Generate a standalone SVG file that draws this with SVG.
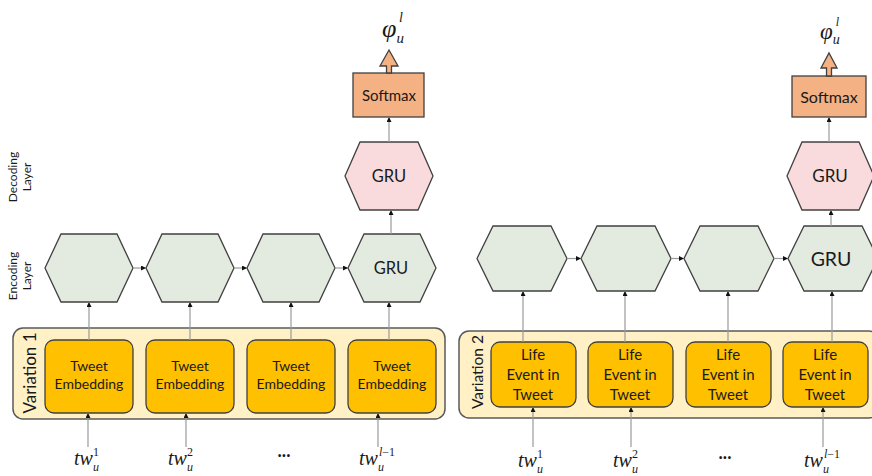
<svg xmlns="http://www.w3.org/2000/svg" width="872" height="476" viewBox="0 0 872 476">
<defs>
<marker id="ah" viewBox="0 0 6 6" refX="6" refY="3" markerWidth="5" markerHeight="5" orient="auto" markerUnits="userSpaceOnUse">
<path d="M0,0 L6,3 L0,6 Z" fill="#111"/>
</marker>
<style>
.enc{fill:#E3EAE0;stroke:#404040;stroke-width:1.3}
.dec{fill:#F9DADD;stroke:#404040;stroke-width:1.3}
.sm{fill:#F4B183;stroke:#404040;stroke-width:1.3}
.box{fill:#FFC000;stroke:#404040;stroke-width:1.3}
.cont{fill:#FFF0C6;stroke:#595959;stroke-width:1.5}
.t{font-family:Lato,"Open Sans",sans-serif;fill:#1a1a1a;text-anchor:middle}
.m{font-family:"Liberation Serif",serif;font-style:italic;fill:#1a1a1a}
.n{font-style:normal}
.c line{stroke:#9a9a9a;stroke-width:1.2;marker-end:url(#ah)}
</style>
</defs>
<rect width="872" height="476" fill="#fff"/>

<!-- side labels -->
<g id="decoding-label">
<text class="t" font-size="12" transform="translate(17,177) rotate(-90)">Decoding</text>
<text class="t" font-size="12" transform="translate(31,177) rotate(-90)">Layer</text>
</g>
<g id="encoding-label">
<text class="t" font-size="12" transform="translate(17,276) rotate(-90)">Encoding</text>
<text class="t" font-size="12" transform="translate(31,276) rotate(-90)">Layer</text>
</g>

<!-- Left panel -->
<g id="variation1">
<rect class="cont" x="13" y="328" width="432" height="91" rx="10"/>
<text class="t" font-size="17" transform="translate(36,373) rotate(-90)">Variation 1</text>
</g>
<g id="tweet1"><rect class="box" x="45" y="340" width="88" height="73" rx="9"/><text class="t" font-size="14"><tspan x="89" y="371">Tweet</tspan><tspan x="89" y="389">Embedding</tspan></text></g>
<g id="tweet2"><rect class="box" x="146" y="340" width="88" height="73" rx="9"/><text class="t" font-size="14"><tspan x="190" y="371">Tweet</tspan><tspan x="190" y="389">Embedding</tspan></text></g>
<g id="tweet3"><rect class="box" x="247" y="340" width="88" height="73" rx="9"/><text class="t" font-size="14"><tspan x="291" y="371">Tweet</tspan><tspan x="291" y="389">Embedding</tspan></text></g>
<g id="tweet4"><rect class="box" x="348" y="340" width="88" height="73" rx="9"/><text class="t" font-size="14"><tspan x="392" y="371">Tweet</tspan><tspan x="392" y="389">Embedding</tspan></text></g>

<g id="enc1"><polygon class="enc" points="45,268 61,234 117,234 133,268 117,302 61,302"/></g>
<g id="enc2"><polygon class="enc" points="146,268 162,234 218,234 234,268 218,302 162,302"/></g>
<g id="enc3"><polygon class="enc" points="247,268 263,234 319,234 335,268 319,302 263,302"/></g>
<g id="enc4"><polygon class="enc" points="348,268 364,234 420,234 436,268 420,302 364,302"/><text class="t" font-size="16.5" x="391" y="274">GRU</text></g>

<g id="dec1"><polygon class="dec" points="345,176 360,142 418,142 433,176 418,210 360,210"/><text class="t" font-size="16.5" x="389" y="182">GRU</text></g>
<g id="softmax1"><rect class="sm" x="353" y="73" width="71" height="44"/><text class="t" font-size="15" x="389" y="101">Softmax</text>
<polygon class="sm" points="386.5,73 386.5,66 380,66 389,50 398,66 391.5,66 391.5,73"/></g>
<g id="phi1"><text class="m" font-size="26" x="382" y="37">φ<tspan font-size="15" dy="6">u</tspan><tspan font-size="14" dx="-5" dy="-21">l</tspan></text></g>

<g id="in1"><text class="m" font-size="20" x="74" y="465">tw<tspan font-size="12" dy="6">u</tspan><tspan class="n" font-size="12" dx="-6" dy="-15">1</tspan></text></g>
<g id="in2"><text class="m" font-size="20" x="168" y="465">tw<tspan font-size="12" dy="6">u</tspan><tspan class="n" font-size="12" dx="-6" dy="-15">2</tspan></text></g>
<g id="dots1"><text class="t" font-size="18" font-weight="bold" x="284" y="457">...</text></g>
<g id="in4"><text class="m" font-size="20" x="359" y="465">tw<tspan font-size="12" dy="6">u</tspan><tspan font-size="12" dx="-5" dy="-15">l<tspan class="n">−1</tspan></tspan></text></g>

<!-- Right panel -->
<g id="variation2">
<rect class="cont" x="459" y="331" width="420" height="87" rx="10"/>
<text class="t" font-size="15.5" transform="translate(483,372) rotate(-90)">Variation 2</text>
</g>
<g id="life1"><rect class="box" x="491" y="342" width="85" height="65" rx="9"/><text class="t" font-size="15"><tspan x="533" y="360">Life</tspan><tspan x="533" y="380">Event in</tspan><tspan x="533" y="400">Tweet</tspan></text></g>
<g id="life2"><rect class="box" x="588" y="342" width="85" height="65" rx="9"/><text class="t" font-size="15"><tspan x="630" y="360">Life</tspan><tspan x="630" y="380">Event in</tspan><tspan x="630" y="400">Tweet</tspan></text></g>
<g id="life3"><rect class="box" x="686" y="342" width="85" height="65" rx="9"/><text class="t" font-size="15"><tspan x="728" y="360">Life</tspan><tspan x="728" y="380">Event in</tspan><tspan x="728" y="400">Tweet</tspan></text></g>
<g id="life4"><rect class="box" x="783" y="342" width="85" height="65" rx="9"/><text class="t" font-size="15"><tspan x="825" y="360">Life</tspan><tspan x="825" y="380">Event in</tspan><tspan x="825" y="400">Tweet</tspan></text></g>

<g id="renc1"><polygon class="enc" points="477,258.5 493,226 551,226 567,258.5 551,291 493,291"/></g>
<g id="renc2"><polygon class="enc" points="581,258.5 597,226 655,226 671,258.5 655,291 597,291"/></g>
<g id="renc3"><polygon class="enc" points="684,258.5 700,226 758,226 774,258.5 758,291 700,291"/></g>
<g id="renc4"><polygon class="enc" points="788,258.5 804,226 862,226 878,258.5 862,291 804,291"/><text class="t" font-size="19.5" x="831" y="265.5">GRU</text></g>

<g id="rdec1"><polygon class="dec" points="787,176 802,142 859,142 874,176 859,210 802,210"/><text class="t" font-size="17" x="830" y="182">GRU</text></g>
<g id="softmax2"><rect class="sm" x="792" y="76" width="74" height="41"/><text class="t" font-size="16" x="829" y="103">Softmax</text>
<polygon class="sm" points="826.5,76 826.5,68 821,68 829,53 837,68 831.5,68 831.5,76"/></g>
<g id="phi2"><text class="m" font-size="23" x="820" y="39">φ<tspan font-size="14" dy="5">u</tspan><tspan font-size="12" dx="-4" dy="-18">l</tspan></text></g>

<g id="rin1"><text class="m" font-size="20" x="518" y="467">tw<tspan font-size="12" dy="6">u</tspan><tspan class="n" font-size="12" dx="-6" dy="-15">1</tspan></text></g>
<g id="rin2"><text class="m" font-size="20" x="613" y="467">tw<tspan font-size="12" dy="6">u</tspan><tspan class="n" font-size="12" dx="-6" dy="-15">2</tspan></text></g>
<g id="dots2"><text class="t" font-size="18" font-weight="bold" x="725" y="459">...</text></g>
<g id="rin4"><text class="m" font-size="20" x="804" y="467">tw<tspan font-size="12" dy="6">u</tspan><tspan font-size="12" dx="-5" dy="-15">l<tspan class="n">−1</tspan></tspan></text></g>

<!-- connectors -->
<g id="connectors" class="c">
<line x1="133" y1="268" x2="146" y2="268"/>
<line x1="234" y1="268" x2="247" y2="268"/>
<line x1="335" y1="268" x2="348" y2="268"/>
<line x1="89" y1="340" x2="89" y2="302"/>
<line x1="190" y1="340" x2="190" y2="302"/>
<line x1="291" y1="340" x2="291" y2="302"/>
<line x1="389" y1="340" x2="389" y2="302"/>
<line x1="88" y1="447" x2="88" y2="413"/>
<line x1="186" y1="447" x2="186" y2="413"/>
<line x1="378" y1="447" x2="378" y2="413"/>
<line x1="391" y1="234" x2="391" y2="210"/>
<line x1="389" y1="142" x2="389" y2="117"/>
<line x1="567" y1="258.5" x2="581" y2="258.5"/>
<line x1="671" y1="258.5" x2="684" y2="258.5"/>
<line x1="774" y1="258.5" x2="788" y2="258.5"/>
<line x1="523" y1="342" x2="523" y2="291"/>
<line x1="625" y1="342" x2="625" y2="291"/>
<line x1="728" y1="342" x2="728" y2="291"/>
<line x1="832" y1="342" x2="832" y2="291"/>
<line x1="533" y1="447" x2="533" y2="407"/>
<line x1="631" y1="447" x2="631" y2="407"/>
<line x1="823" y1="447" x2="823" y2="407"/>
<line x1="831" y1="226" x2="831" y2="210"/>
<line x1="829" y1="142" x2="829" y2="117"/>
</g>
</svg>
